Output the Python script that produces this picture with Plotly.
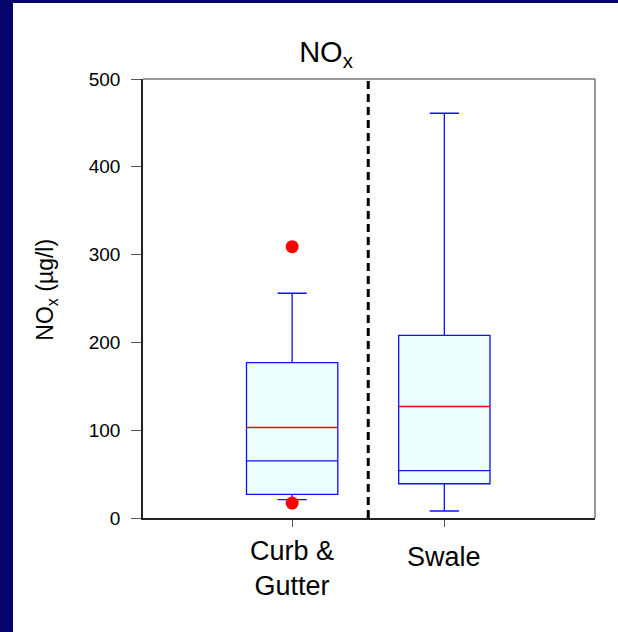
import plotly.graph_objects as go

# ---- data ----
categories = ["Curb &<br>Gutter", "Swale"]
lower_whisker = [21, 8]
q1 = [27, 39]
median = [65, 54]
q3 = [177, 208]
upper_whisker = [256, 461]
mean = [103, 127]
outlier_cat = [0, 0]
outlier_val = [309, 17]
y_ticks = [0, 100, 200, 300, 400, 500]

FONT = "Liberation Sans, Arial, sans-serif"
NAVY = "#05056B"
BOX_W = 0.6
xpos = list(range(len(categories)))

fig = go.Figure()
fig.add_trace(go.Box(
    x=xpos, q1=q1, median=median, q3=q3,
    lowerfence=lower_whisker, upperfence=upper_whisker,
    width=BOX_W, whiskerwidth=0.32, boxpoints=False,
    fillcolor="#EEFFFF", line=dict(color="#1010FF", width=1.3),
    showlegend=False, hoverinfo="skip",
))
fig.add_trace(go.Scatter(
    x=outlier_cat, y=outlier_val, mode="markers",
    marker=dict(color="#FF0000", size=13), showlegend=False, hoverinfo="skip",
))

# mean lines
for i, m in enumerate(mean):
    fig.add_shape(type="line", xref="x", yref="y", x0=i - BOX_W / 2, x1=i + BOX_W / 2,
                  y0=m, y1=m, line=dict(color="#FF0000", width=1.5))

# divider
fig.add_shape(type="line", xref="x", yref="paper", x0=0.5, x1=0.5, y0=0, y1=1,
              line=dict(color="black", width=3, dash="8px,5px"))

# gray top/right frame
fig.add_shape(type="line", xref="paper", yref="paper", x0=0, x1=1, y0=1, y1=1,
              line=dict(color="#777777", width=1.5))
fig.add_shape(type="line", xref="paper", yref="paper", x0=1, x1=1, y0=0, y1=1,
              line=dict(color="#777777", width=1.5))

# slide background: navy strips on left and top
fig.add_shape(type="rect", xref="paper", yref="paper", layer="below",
              x0=-0.5, x1=-0.2876, y0=-0.5, y1=1.5,
              fillcolor=NAVY, line=dict(width=0))
fig.add_shape(type="rect", xref="paper", yref="paper", layer="below",
              x0=-0.5, x1=1.5, y0=1.1731, y1=1.5,
              fillcolor=NAVY, line=dict(width=0))

# category labels
fig.add_annotation(x=0, y=-0.036, xref="x", yref="paper", text=categories[0],
                   showarrow=False, yanchor="top", font=dict(family=FONT, size=27, color="black"))
fig.add_annotation(x=1, y=-0.0888, xref="x", yref="paper", text=categories[1],
                   showarrow=False, yanchor="middle", font=dict(family=FONT, size=27, color="black"))

# y-axis title
fig.add_annotation(x=-0.2124, y=0.52, xref="paper", yref="paper", text="NO<sub>x</sub> (µg/l)",
                   textangle=-90, showarrow=False, xanchor="center", yanchor="middle",
                   font=dict(family=FONT, size=23, color="black"))

fig.update_layout(
    width=618, height=632,
    margin=dict(l=143, r=23, t=79, b=114),
    paper_bgcolor="white", plot_bgcolor="white",
    title=dict(text="NO<sub>x</sub>", x=326 / 618, xref="container", xanchor="center",
               y=1 - 52 / 632, yref="container", yanchor="middle",
               font=dict(family=FONT, size=29, color="black")),
    font=dict(family=FONT, color="black"),
)
fig.update_xaxes(range=[-0.98, 1.99], tickvals=xpos, ticktext=["", ""], showticklabels=False,
                 ticks="outside", ticklen=7, tickcolor="#555", showgrid=False, zeroline=False,
                 showline=True, linecolor="#222", linewidth=1.5)
fig.update_yaxes(range=[0, 500], tickvals=y_ticks, ticks="outside", ticklen=10, tickcolor="#555",
                 showgrid=False, zeroline=False, showline=True, linecolor="#222", linewidth=1.5,
                 ticklabelstandoff=7,
                 tickfont=dict(family=FONT, size=19, color="black"))

fig.write_html(
    "out.html", config={"displayModeBar": False},
    post_script="document.body.style.margin='0px';document.body.style.overflow='hidden';"
                "document.documentElement.style.overflow='hidden';",
)
